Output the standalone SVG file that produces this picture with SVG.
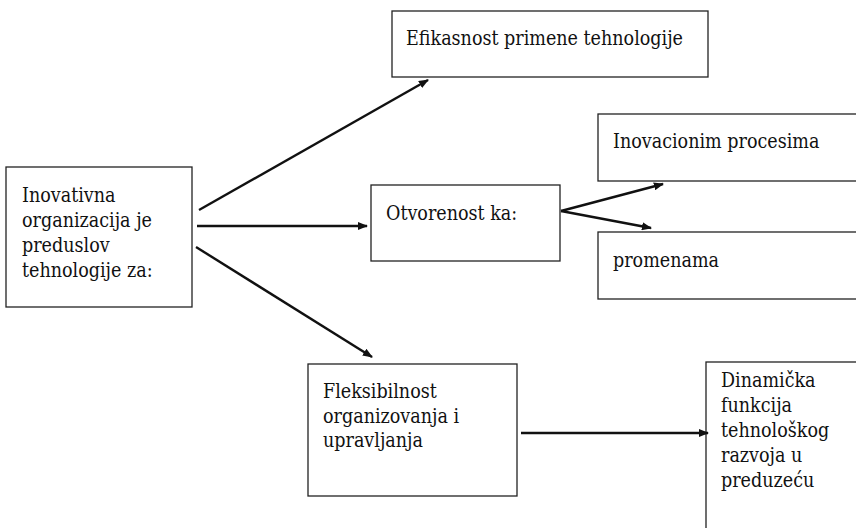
<svg xmlns="http://www.w3.org/2000/svg" width="856" height="528" viewBox="0 0 856 528">
<style>
.box{fill:#fff;stroke:#222;stroke-width:1.3}
.t{font-family:'DejaVu Serif Condensed','DejaVu Serif',serif;font-stretch:condensed;font-size:19.5px;fill:#111}
.c{stroke:#111;stroke-width:2.4;fill:none;marker-end:url(#ah)}
</style>
<defs>
<marker id="ah" viewBox="0 0 10 8" refX="9" refY="4" markerWidth="4.2" markerHeight="3.4" orient="auto" markerUnits="strokeWidth">
<path d="M0,0 L10,4 L0,8 Z" fill="#111"/>
</marker>
</defs>
<rect width="856" height="528" fill="#fff"/>
<g id="n-inovativna">
<rect class="box" x="6" y="167" width="186" height="140"/>
<text class="t" x="22" y="202">Inovativna</text>
<text class="t" x="22" y="227">organizacija je</text>
<text class="t" x="22" y="252">preduslov</text>
<text class="t" x="22" y="277">tehnologije za:</text>
</g>
<g id="n-efikasnost">
<rect class="box" x="392" y="11" width="316" height="66"/>
<text class="t" x="406" y="45">Efikasnost primene tehnologije</text>
</g>
<g id="n-otvorenost">
<rect class="box" x="371" y="185" width="189" height="76"/>
<text class="t" x="386" y="220">Otvorenost ka:</text>
</g>
<g id="n-inovacionim">
<rect class="box" x="598" y="114" width="262" height="67"/>
<text class="t" x="613" y="148">Inovacionim procesima</text>
</g>
<g id="n-promenama">
<rect class="box" x="598" y="232" width="262" height="67"/>
<text class="t" x="613" y="267">promenama</text>
</g>
<g id="n-fleksibilnost">
<rect class="box" x="308" y="364" width="209" height="132"/>
<text class="t" x="323" y="398">Fleksibilnost</text>
<text class="t" x="323" y="423">organizovanja i</text>
<text class="t" x="323" y="447">upravljanja</text>
</g>
<g id="n-dinamicka">
<rect class="box" x="706" y="362" width="156" height="180"/>
<text class="t" x="721" y="387">Dinamička</text>
<text class="t" x="721" y="412">funkcija</text>
<text class="t" x="721" y="437">tehnološkog</text>
<text class="t" x="721" y="462">razvoja u</text>
<text class="t" x="721" y="487">preduzeću</text>
</g>
<g id="connectors">
<line class="c" x1="199" y1="210" x2="428" y2="80"/>
<line class="c" x1="197" y1="226" x2="367" y2="226"/>
<line class="c" x1="196" y1="247" x2="372" y2="357"/>
<line class="c" x1="561" y1="211" x2="663" y2="184"/>
<line class="c" x1="561" y1="211" x2="651" y2="228"/>
<line class="c" x1="521" y1="433" x2="708" y2="433"/>
</g>
</svg>
